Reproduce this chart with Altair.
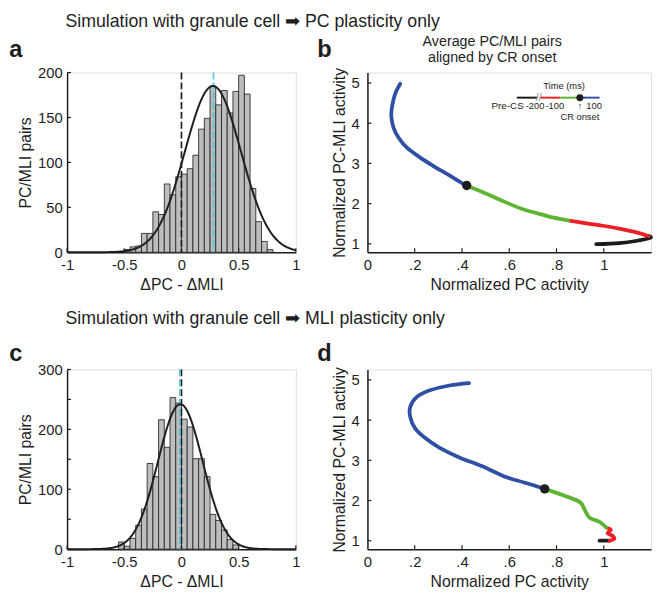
import altair as alt
import pandas as pd

FONT = "Liberation Sans"
INK = "#1e1e1e"

# ---------------- panels a / c : histograms ----------------
hist_bin_width = 0.05
hist_x_ticks = [-1, -0.5, 0, 0.5, 1]

a_bin_start = [-0.50, -0.45, -0.40, -0.35, -0.30, -0.25, -0.20, -0.15, -0.10, -0.05,
               0.00, 0.05, 0.10, 0.15, 0.20, 0.25, 0.30, 0.35, 0.40, 0.45,
               0.50, 0.55, 0.60, 0.65, 0.70, 0.75]
a_counts = [3, 6, 7, 21, 21, 45, 42, 76, 64, 84,
            87, 93, 108, 137, 149, 185, 164, 180, 155, 179,
            197, 176, 71, 34, 12, 3]
a_fit = [0.275, 0.245, 185]      # mean, sd, peak of the fitted normal curve
a_mean = 0.28
a_y_ticks = [0, 50, 100, 150, 200]

c_bin_start = [-0.55, -0.50, -0.45, -0.40, -0.35, -0.30, -0.25, -0.20, -0.15, -0.10,
               -0.05, 0.00, 0.05, 0.10, 0.15, 0.20, 0.25, 0.30, 0.35, 0.40, 0.45]
c_counts = [12, 5, 18, 40, 67, 143, 121, 216, 170, 253,
            244, 217, 204, 151, 151, 121, 58, 48, 32, 16, 7]
c_fit = [-0.01, 0.195, 242]
c_mean = -0.015
c_y_ticks = [0, 50, 100, 150, 200, 250, 300]

# ---------------- panels b / d : trajectories ----------------
traj_x_ticks = [0, 0.2, 0.4, 0.6, 0.8, 1]
traj_y_ticks = [1, 2, 3, 4, 5]
seg_names = ["pre", "early", "late", "post"]
seg_colors = ["#1c1c1c", "#ec1f26", "#5db432", "#2f4fa4"]

b_pre_x = [0.968, 1.065, 1.135, 1.197, 1.19]
b_pre_y = [0.99, 1.02, 1.07, 1.15, 1.19]
b_early_x = [1.19, 1.135, 1.065, 0.996, 0.926, 0.85]
b_early_y = [1.19, 1.29, 1.38, 1.45, 1.51, 1.58]
b_late_x = [0.85, 0.788, 0.718, 0.649, 0.579, 0.486, 0.417]
b_late_y = [1.58, 1.65, 1.76, 1.88, 2.05, 2.29, 2.45]
b_post_x = [0.417, 0.347, 0.278, 0.222, 0.167, 0.132, 0.111, 0.101, 0.104, 0.118, 0.139]
b_post_y = [2.45, 2.70, 2.94, 3.15, 3.39, 3.64, 3.88, 4.17, 4.41, 4.74, 4.98]
b_onset = [0.42, 2.45]

d_pre_x = [0.982, 1.024]
d_pre_y = [1.0, 1.0]
d_early_x = [1.024, 1.045, 1.035, 1.016, 1.03, 1.01]
d_early_y = [1.0, 1.05, 1.13, 1.19, 1.27, 1.33]
d_late_x = [1.01, 0.982, 0.94, 0.92, 0.899, 0.829, 0.75]
d_late_y = [1.33, 1.47, 1.57, 1.76, 1.96, 2.13, 2.29]
d_post_x = [0.75, 0.663, 0.579, 0.486, 0.389, 0.306, 0.243, 0.201, 0.181, 0.181, 0.208, 0.264, 0.347, 0.43]
d_post_y = [2.29, 2.45, 2.60, 2.85, 3.07, 3.31, 3.56, 3.80, 4.08, 4.33, 4.57, 4.74, 4.86, 4.92]
d_onset = [0.75, 2.29]

# inset time legend (ms)
inset_seg_start = [-320, -200, -100, 0]
inset_seg_end = [-215, -100, 0, 100]
inset_tick_times = [-200, -100, 100]
inset_tick_labels = ["-200", "-100", "100"]

# ---------------- layout constants ----------------
WH, WT, H = 232.3, 288, 182.5
AX = dict(ticks=False, tickSize=0, grid=False, domainColor=INK, domainWidth=1.5,
          labelFont=FONT, labelFontSize=15, labelColor=INK, labelFlush=False,
          labelOverlap=False, titleFont=FONT, titleFontSize=16,
          titleFontWeight="normal", titleColor=INK)


def text_layer(txt, x, y, size, weight="normal", align="left", color=INK,
               baseline="alphabetic"):
    return alt.Chart(pd.DataFrame({"t": [txt]})).mark_text(
        align=align, baseline=baseline, font=FONT, fontSize=size,
        fontWeight=weight, color=color
    ).encode(text="t:N", x=alt.value(x), y=alt.value(y))


def tick_layers(xs, ys, xvals, yvals):
    xt = alt.Chart(pd.DataFrame({"v": xvals})).mark_rule(color=INK, strokeWidth=1.2).encode(
        x=alt.X("v:Q", scale=xs), y=alt.value(H), y2=alt.value(H - 4))
    yt = alt.Chart(pd.DataFrame({"v": yvals})).mark_rule(color=INK, strokeWidth=1.2).encode(
        y=alt.Y("v:Q", scale=ys), x=alt.value(0), x2=alt.value(4))
    return [xt, yt]


def hist_panel(starts, counts, fit, mean_val, ymax, yticks, letter, letter_y,
               row_title, row_title_y):
    df = pd.DataFrame({"start": starts, "count": counts})
    df["end"] = df["start"] + hist_bin_width
    xs = alt.Scale(domain=[-1, 1], nice=False, zero=False, padding=0)
    ys = alt.Scale(domain=[0, ymax], nice=False, padding=0)
    xaxis = alt.Axis(values=hist_x_ticks, labelExpr="'' + datum.value",
                     title="ΔPC - ΔMLI", titleY=38, titleBaseline="alphabetic",
                     labelPadding=6, **AX)
    yaxis = alt.Axis(values=yticks, title="PC/MLI pairs", titleX=-37.4, titleY=H / 2,
                     titleAngle=270, titleBaseline="alphabetic", titleAlign="center",
                     labelPadding=5, **AX)
    bars = alt.Chart(df).mark_rect(fill="#bdbdbd", stroke="#2b2b2b", strokeWidth=0.9).encode(
        x=alt.X("start:Q", scale=xs, axis=xaxis), x2="end:Q",
        y=alt.Y("count:Q", scale=ys, axis=yaxis), y2=alt.datum(0))
    zero_rule = alt.Chart(pd.DataFrame({"v": [0]})).mark_rule(
        color=INK, strokeWidth=1.7, strokeDash=[7, 3]).encode(x=alt.X("v:Q", scale=xs))
    mean_rule = alt.Chart(pd.DataFrame({"v": [mean_val]})).mark_rule(
        color="#55c4d8", strokeWidth=1.7, strokeDash=[7, 3]).encode(x=alt.X("v:Q", scale=xs))
    mu, sd, peak = fit
    curve = alt.Chart(alt.sequence(-1, 1.0001, 0.004, as_="gx")).transform_calculate(
        gy=f"{peak} * exp(-pow(datum.gx - ({mu}), 2) / (2 * {sd} * {sd}))"
    ).mark_line(color=INK, strokeWidth=2).encode(
        x=alt.X("gx:Q", scale=xs), y=alt.Y("gy:Q", scale=ys))
    layers = [bars, zero_rule, mean_rule, curve] + tick_layers(xs, ys, hist_x_ticks, yticks)
    layers.append(text_layer(letter, -58.7, letter_y, 24, weight="bold"))
    layers.append(text_layer(row_title, -1.7, row_title_y, 18))
    return alt.layer(*layers).properties(width=WH, height=H)


def traj_panel(segx, segy, onset, ytitle, letter, letter_y, title_lines=None, inset=False):
    rows = []
    for name, xs_, ys_ in zip(seg_names, segx, segy):
        for i, (xv, yv) in enumerate(zip(xs_, ys_)):
            rows.append({"seg": name, "i": i, "x": xv, "y": yv})
    df = pd.DataFrame(rows)
    xs = alt.Scale(domain=[0, 1.2], nice=False, zero=False, padding=0)
    ys = alt.Scale(domain=[0.79, 5.26], nice=False, zero=False, padding=0)
    cs = alt.Scale(domain=seg_names, range=seg_colors)
    xaxis = alt.Axis(values=traj_x_ticks, labelExpr="replace('' + datum.value, '0.', '.')",
                     title="Normalized PC activity", titleY=37.5, titleBaseline="alphabetic",
                     labelPadding=6, **AX)
    yaxis = alt.Axis(values=traj_y_ticks, title=ytitle, titleX=-23.3, titleY=H / 2,
                     titleAngle=270, titleBaseline="alphabetic", titleAlign="center",
                     labelPadding=8.3, **AX)
    lines = alt.Chart(df).mark_line(strokeWidth=3.8, strokeCap="round", strokeJoin="round",
                                    interpolate="cardinal").encode(
        x=alt.X("x:Q", scale=xs, axis=xaxis), y=alt.Y("y:Q", scale=ys, axis=yaxis),
        color=alt.Color("seg:N", scale=cs, legend=None), order="i:Q")
    dot = alt.Chart(pd.DataFrame({"x": [onset[0]], "y": [onset[1]]})).mark_circle(
        size=90, color=INK, opacity=1).encode(x=alt.X("x:Q", scale=xs), y=alt.Y("y:Q", scale=ys))
    layers = [lines, dot] + tick_layers(xs, ys, traj_x_ticks[1:], traj_y_ticks)
    layers.append(text_layer(letter, -51, letter_y, 24, weight="bold"))
    if title_lines:
        layers.append(text_layer(title_lines[0], 126.7, -26.5, 14.5, align="center"))
        layers.append(text_layer(title_lines[1], 126.7, -10.8, 14.5, align="center"))
    main = alt.layer(*layers)
    if not inset:
        return main.properties(width=WT, height=H)

    ts = alt.Scale(domain=[-1078.5, 361.5], nice=False, zero=False, padding=0)
    LY = 25.5
    FS = 9.5
    segdf = pd.DataFrame({"seg": seg_names, "t0": inset_seg_start, "t1": inset_seg_end})
    iseg = alt.Chart(segdf).mark_rule(strokeWidth=2).encode(
        x=alt.X("t0:Q", scale=ts, axis=None), x2="t1:Q", y=alt.value(LY),
        color=alt.Color("seg:N", scale=cs, legend=None))
    ibreak = alt.Chart(pd.DataFrame({"t": [-210], "s": ["//"]})).mark_text(
        font=FONT, fontSize=11, color="#8a8a8a", baseline="middle").encode(
        x=alt.X("t:Q", scale=ts, axis=None), y=alt.value(LY), text="s:N")
    idot = alt.Chart(pd.DataFrame({"t": [0]})).mark_circle(size=50, color=INK, opacity=1).encode(
        x=alt.X("t:Q", scale=ts, axis=None), y=alt.value(LY))
    itick = alt.Chart(pd.DataFrame({"t": inset_tick_times, "s": inset_tick_labels})).mark_text(
        font=FONT, fontSize=9.5, color=INK, baseline="middle", dx=-5.5).encode(
        x=alt.X("t:Q", scale=ts, axis=None), y=alt.value(34.2), text="s:N")
    iarrow = alt.Chart(pd.DataFrame({"t": [0], "s": ["↑"]})).mark_text(
        font=FONT, fontSize=9, color=INK, baseline="middle").encode(
        x=alt.X("t:Q", scale=ts, axis=None), y=alt.value(34.5), text="s:N")
    ipre = alt.Chart(pd.DataFrame({"t": [-200], "s": ["Pre-CS"]})).mark_text(
        font=FONT, fontSize=10, color=INK, baseline="middle", align="right", dx=-17).encode(
        x=alt.X("t:Q", scale=ts, axis=None), y=alt.value(34.2), text="s:N")
    icr = alt.Chart(pd.DataFrame({"t": [0], "s": ["CR onset"]})).mark_text(
        font=FONT, fontSize=FS, color=INK, baseline="middle").encode(
        x=alt.X("t:Q", scale=ts, axis=None), y=alt.value(44.8), text="s:N")
    itime = alt.Chart(pd.DataFrame({"t": [-100], "s": ["Time (ms)"]})).mark_text(
        font=FONT, fontSize=FS, color=INK, baseline="middle", dx=4).encode(
        x=alt.X("t:Q", scale=ts, axis=None), y=alt.value(14.2), text="s:N")
    ins = alt.layer(iseg, ibreak, idot, itick, iarrow, ipre, icr, itime)
    return alt.layer(main, ins).resolve_scale(x="independent").properties(width=WT, height=H)


pa = hist_panel(a_bin_start, a_counts, a_fit, a_mean, 200, a_y_ticks, "a", -15.5,
                "Simulation with granule cell ➡ PC plasticity only", -46.5)
pb = traj_panel([b_pre_x, b_early_x, b_late_x, b_post_x], [b_pre_y, b_early_y, b_late_y, b_post_y],
                b_onset, "Normalized PC-MLI activity", "b", -15.5,
                title_lines=["Average PC/MLI pairs", "aligned by CR onset"], inset=True)
pc = hist_panel(c_bin_start, c_counts, c_fit, c_mean, 300, c_y_ticks, "c", -8.5,
                "Simulation with granule cell ➡ MLI plasticity only", -46.2)
pd_ = traj_panel([d_pre_x, d_early_x, d_late_x, d_post_x], [d_pre_y, d_early_y, d_late_y, d_post_y],
                 d_onset, "Normalized PC-MLI activiy", "d", -8.5)

chart = alt.concat(pa, pb, pc, pd_, columns=2, spacing={"row": 118.5, "column": 72},
                   bounds="flush", align="each").properties(padding=0).configure_view(
    stroke=None).configure(font=FONT)

chart.save("out.html", embed_options={"renderer": "svg", "actions": False})
